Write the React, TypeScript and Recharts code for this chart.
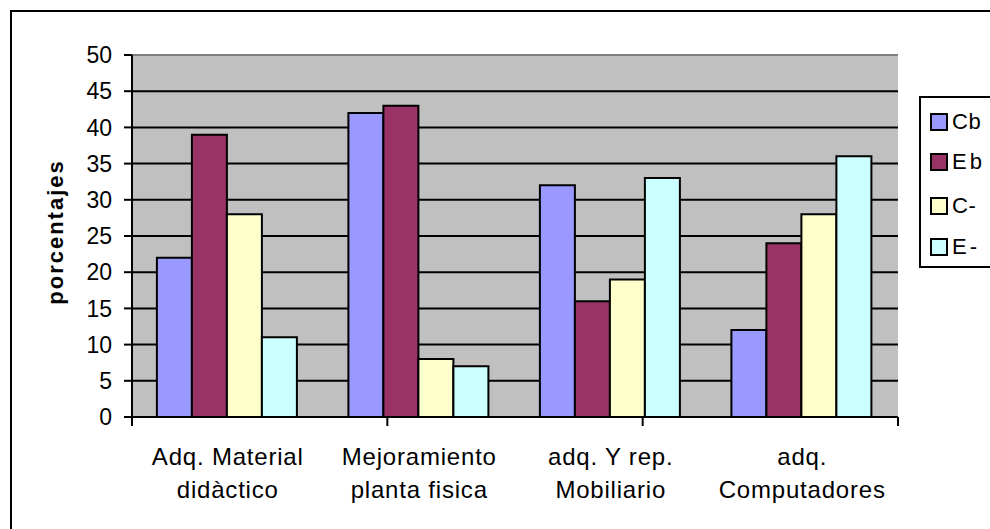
import React from "react";
import {
  BarChart,
  Bar,
  XAxis,
  YAxis,
  CartesianGrid,
  ReferenceLine,
} from "recharts";

const categories = [
  "Adq. Material\ndidàctico",
  "Mejoramiento\nplanta fisica",
  "adq. Y rep.\nMobiliario",
  "adq.\nComputadores",
];
const cbValues = [22, 42, 32, 12];
const ebValues = [39, 43, 16, 24];
const cMinusValues = [28, 8, 19, 28];
const eMinusValues = [11, 7, 33, 36];
const yTicks = [0, 5, 10, 15, 20, 25, 30, 35, 40, 45, 50];
const edgeTicks = [0, 1, 2, 3, 4];

const seriesNames = ["Cb", "Eb", "C-", "E-"];
const seriesColors = ["#9999FF", "#993366", "#FFFFCC", "#CCFFFF"];

const data = categories.map((c, i) => ({
  name: c,
  Cb: cbValues[i],
  Eb: ebValues[i],
  "C-": cMinusValues[i],
  "E-": eMinusValues[i],
}));

const FONT = "'Liberation Sans', Arial, sans-serif";
const EDGE_AXIS = "a_edges";
const CAT_AXIS = "b_cat";

const CategoryTick = (props: any) => {
  const { x, y, payload } = props;
  const lines = String(payload.value).split("\n");
  return (
    <text
      x={x}
      y={y}
      textAnchor="middle"
      fontFamily={FONT}
      fontSize={24}
      letterSpacing={0.8}
      fill="#000"
    >
      {lines.map((l, i) => (
        <tspan key={i} x={x} dy={i === 0 ? 47 : 33}>
          {l}
        </tspan>
      ))}
    </text>
  );
};

const EmptyTick = () => <g />;

const YLabel = (props: any) => {
  const vb = props.viewBox || {};
  const cx = 55;
  const cy = (vb.y ?? 55) + (vb.height ?? 362) / 2 - 4;
  return (
    <text
      x={cx}
      y={cy}
      transform={`rotate(-90, ${cx}, ${cy})`}
      textAnchor="middle"
      dominantBaseline="central"
      fontFamily={FONT}
      fontSize={22}
      fontWeight="bold"
      letterSpacing={2}
      fill="#000"
    >
      porcentajes
    </text>
  );
};

const LegendBox = () => (
  <div
    style={{
      position: "absolute",
      left: 919,
      top: 96,
      borderTop: "2px solid #000",
      borderLeft: "2px solid #000",
      borderBottom: "2px solid #000",
      width: 90,
      height: 172,
      boxSizing: "border-box",
      background: "#fff",
      fontFamily: FONT,
      fontSize: 22,
    }}
  >
    {seriesNames.map((n, i) => (
      <div
        key={n}
        style={{
          position: "absolute",
          left: 9,
          top: [15, 55, 99, 140][i],
          height: 18,
          display: "flex",
          alignItems: "center",
        }}
      >
        <span
          style={{
            display: "inline-block",
            width: 14,
            height: 14,
            background: seriesColors[i],
            border: "2px solid #000",
            marginRight: 4,
          }}
        />
        <span style={{ letterSpacing: n.startsWith("E") ? 3 : 0.5, lineHeight: "18px" }}>{n}</span>
      </div>
    ))}
  </div>
);

export default function App() {
  return (
    <div
      style={{
        position: "absolute",
        left: 0,
        top: 0,
        width: 990,
        height: 529,
        overflow: "hidden",
        background: "#fff",
      }}
    >
      <div
        style={{
          position: "absolute",
          left: 10,
          top: 10,
          width: 1000,
          height: 600,
          borderTop: "2px solid #000",
          borderLeft: "2px solid #000",
        }}
      />
      <div style={{ position: "absolute", left: 0, top: 0 }}>
        <BarChart
          width={990}
          height={529}
          data={data}
          margin={{ top: 55, right: 92, bottom: 52, left: 0 }}
          barCategoryGap="13%"
          barGap={0}
        >
          <CartesianGrid
            xAxisId={CAT_AXIS}
            vertical={false}
            stroke="#000"
            strokeWidth={2}
            fill="#C0C0C0"
            fillOpacity={1}
          />
          <XAxis
            xAxisId={EDGE_AXIS}
            type="number"
            domain={[0, 4]}
            ticks={edgeTicks}
            interval={0}
            tick={<EmptyTick />}
            tickSize={9}
            tickLine={{ stroke: "#000", strokeWidth: 2 }}
            axisLine={{ stroke: "#000", strokeWidth: 2 }}
            height={1}
            allowDataOverflow
          />
          <XAxis
            xAxisId={CAT_AXIS}
            dataKey="name"
            height={59}
            tickLine={false}
            tickSize={0}
            tickMargin={0}
            axisLine={false}
            tick={<CategoryTick />}
            interval={0}
          />
          <YAxis
            width={132}
            domain={[0, 50]}
            ticks={yTicks}
            interval={0}
            tickSize={8}
            tickMargin={12}
            tickLine={{ stroke: "#000", strokeWidth: 2 }}
            axisLine={{ stroke: "#000", strokeWidth: 2 }}
            tick={{ fill: "#000", fontSize: 23, fontFamily: FONT }}
            label={<YLabel />}
          />
          <ReferenceLine xAxisId={CAT_AXIS} y={50} stroke="#808080" strokeWidth={2} />
          <ReferenceLine xAxisId={EDGE_AXIS} x={4} stroke="#808080" strokeWidth={2} />
          {seriesNames.map((n, i) => (
            <Bar
              key={n}
              xAxisId={CAT_AXIS}
              dataKey={n}
              fill={seriesColors[i]}
              stroke="#000"
              strokeWidth={2}
              isAnimationActive={false}
            />
          ))}
        </BarChart>
      </div>
      <LegendBox />
    </div>
  );
}
